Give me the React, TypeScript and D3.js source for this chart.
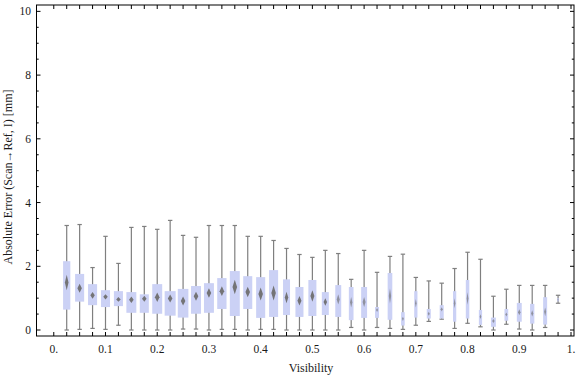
import React from "react";
import * as d3 from "d3";

// visibility bin centres (k * 0.025, k = 1..39)
const visibility = [
  0.025, 0.05, 0.075, 0.1, 0.125, 0.15, 0.175, 0.2, 0.225, 0.25,
  0.275, 0.3, 0.325, 0.35, 0.375, 0.4, 0.425, 0.45, 0.475, 0.5,
  0.525, 0.55, 0.575, 0.6, 0.625, 0.65, 0.675, 0.7, 0.725, 0.75,
  0.775, 0.8, 0.825, 0.85, 0.875, 0.9, 0.925, 0.95, 0.975,
];
const whiskerMax = [
  3.28, 3.31, 1.96, 2.94, 2.09, 3.22, 3.25, 3.16, 3.44, 2.97,
  2.91, 3.28, 3.28, 3.28, 2.94, 2.94, 2.81, 2.56, 2.37, 2.28,
  2.5, 2.4, 1.59, 2.5, 1.81, 2.31, 2.38, 1.65, 1.54, 1.47,
  1.93, 2.44, 2.22, 1.06, 1.28, 1.4, 1.4, 1.4, 1.09,
];
const q3 = [
  2.16, 1.76, 1.44, 1.25, 1.22, 1.19, 1.12, 1.44, 1.22, 1.29,
  1.38, 1.47, 1.63, 1.85, 1.69, 1.66, 1.88, 1.59, 1.35, 1.57,
  1.19, 1.41, 1.35, 1.35, 0.72, 1.79, 0.56, 1.22, 0.66, 0.78,
  1.22, 1.57, 0.63, 0.39, 0.66, 0.85, 0.82, 1.03, 1.0,
];
const medians = [
  1.49, 1.31, 1.09, 1.04, 0.96, 0.95, 0.98, 1.03, 0.99, 0.91,
  1.06, 1.16, 1.22, 1.35, 1.19, 1.13, 1.16, 1.02, 0.92, 1.07,
  0.88, 0.96, 0.87, 0.88, 0.63, 1.07, 0.35, 0.84, 0.51, 0.65,
  0.84, 0.99, 0.42, 0.28, 0.49, 0.56, 0.52, 0.57, 0.95,
];
const q1 = [
  0.64, 0.89, 0.78, 0.72, 0.75, 0.54, 0.54, 0.51, 0.45, 0.39,
  0.51, 0.54, 0.66, 0.44, 0.66, 0.38, 0.41, 0.47, 0.41, 0.44,
  0.47, 0.41, 0.31, 0.38, 0.38, 0.32, 0.14, 0.39, 0.36, 0.36,
  0.26, 0.36, 0.16, 0.1, 0.29, 0.26, 0.2, 0.17, 0.9,
];
const whiskerMin = [
  0.0, 0.02, 0.05, 0.02, 0.15, 0.0, 0.0, 0.0, 0.0, 0.03,
  0.03, 0.0, 0.02, 0.02, 0.0, 0.02, 0.02, 0.0, 0.0, 0.0,
  0.0, 0.0, 0.08, 0.0, 0.08, 0.05, 0.02, 0.15, 0.27, 0.34,
  0.05, 0.21, 0.1, 0.0, 0.18, 0.03, 0.0, 0.08, 0.84,
];
// relative box width (share of the bin spacing)
const boxWidth = [
  0.56, 0.7, 0.7, 0.7, 0.7, 0.77, 0.7, 0.77, 0.85, 0.82,
  0.77, 0.77, 0.72, 0.77, 0.7, 0.7, 0.7, 0.54, 0.62, 0.62,
  0.54, 0.46, 0.36, 0.46, 0.31, 0.36, 0.28, 0.25, 0.31, 0.31,
  0.25, 0.27, 0.25, 0.38, 0.29, 0.38, 0.33, 0.31, 0.15,
];

const xTickValues = d3.range(0, 41).map((k) => k * 0.025);
const xLabelValues = [0, 0.1, 0.2, 0.3, 0.4, 0.5, 0.6, 0.7, 0.8, 0.9, 1.0];
const xLabelTexts = ["0.", "0.1", "0.2", "0.3", "0.4", "0.5", "0.6", "0.7", "0.8", "0.9", "1."];
const yMajor = [0, 2, 4, 6, 8, 10];
const yMinor = d3.range(0, 10.01, 0.5).filter((v) => Math.abs(v / 2 - Math.round(v / 2)) > 1e-6);

const W = 576;
const H = 377;
const left = 36.5;
const right = 574;
const top = 5;
const bottom = 336;

export default function App() {
  const x = d3.scaleLinear().domain([-0.0334, 1.0058]).range([left, right]);
  const y = d3.scaleLinear().domain([-0.188, 10.2]).range([bottom, top]);
  const step = x(0.025) - x(0);
  const font = "'Liberation Serif', 'Times New Roman', serif";
  const boxFill = "#cbd1f5";
  const gray = "#7f7f7f";

  return (
    <svg width={W} height={H} style={{ position: "absolute", left: 0, top: 0 }}>
      <defs>
        <filter id="soft" x="-50%" y="-50%" width="200%" height="200%">
          <feGaussianBlur stdDeviation="0.6" />
        </filter>
      </defs>
      <rect x={0} y={0} width={W} height={H} fill="#fff" />
      {visibility.map((v, i) => {
        const cx = x(v);
        const bw = boxWidth[i] * step;
        const yTop = y(q3[i]);
        const yBot = y(q1[i]);
        const bh = yBot - yTop;
        const dh = Math.max(4, bh * 0.32);
        const dw = Math.min(4.6, bw * 0.5);
        const my = y(medians[i]);
        const cap = 2.2;
        return (
          <g key={i}>
            <line x1={cx} x2={cx} y1={y(whiskerMax[i])} y2={y(whiskerMin[i])} stroke={gray} strokeWidth={1.2} />
            <line x1={cx - cap} x2={cx + cap} y1={y(whiskerMax[i])} y2={y(whiskerMax[i])} stroke={gray} strokeWidth={1.2} />
            <line x1={cx - cap} x2={cx + cap} y1={y(whiskerMin[i])} y2={y(whiskerMin[i])} stroke={gray} strokeWidth={1.2} />
            <rect x={cx - bw / 2} y={yTop} width={bw} height={bh} fill={boxFill} />
            <path
              d={`M${cx},${my - dh / 2} L${cx + dw / 2},${my} L${cx},${my + dh / 2} L${cx - dw / 2},${my} Z`}
              fill="#6f6f6f"
              opacity={bw < 6 ? 0.65 : 0.95}
              filter="url(#soft)"
            />
          </g>
        );
      })}
      {/* frame */}
      <rect x={left} y={top} width={right - left} height={bottom - top} fill="none" stroke="#000" strokeWidth={1} />
      {/* x ticks */}
      {xTickValues.map((v, i) => (
        <g key={"xt" + i}>
          <line x1={x(v)} x2={x(v)} y1={bottom} y2={bottom - 4} stroke="#000" />
          <line x1={x(v)} x2={x(v)} y1={top} y2={top + 4} stroke="#000" />
        </g>
      ))}
      {xLabelValues.map((v, i) => (
        <text key={"xl" + i} x={x(v)} y={353} textAnchor="middle" fontFamily={font} fontSize={11.5} fill="#1a1a1a">
          {xLabelTexts[i]}
        </text>
      ))}
      {/* y ticks */}
      {yMajor.map((v) => (
        <g key={"ym" + v}>
          <line x1={left} x2={left + 4} y1={y(v)} y2={y(v)} stroke="#000" />
          <line x1={right} x2={right - 4} y1={y(v)} y2={y(v)} stroke="#000" />
          <text x={31} y={y(v) + 4} textAnchor="end" fontFamily={font} fontSize={11.5} fill="#1a1a1a">
            {v}
          </text>
        </g>
      ))}
      {yMinor.map((v) => (
        <g key={"yn" + v}>
          <line x1={left} x2={left + 2.2} y1={y(v)} y2={y(v)} stroke="#000" />
          <line x1={right} x2={right - 2.2} y1={y(v)} y2={y(v)} stroke="#000" />
        </g>
      ))}
      <text x={311} y={372} textAnchor="middle" fontFamily={font} fontSize={12} fill="#1a1a1a">
        Visibility
      </text>
      <text
        transform={`translate(12, 177) rotate(-90)`}
        textAnchor="middle"
        fontFamily={font}
        fontSize={12}
        fill="#1a1a1a"
      >
        Absolute Error (Scan→Ref, I) [mm]
      </text>
    </svg>
  );
}
